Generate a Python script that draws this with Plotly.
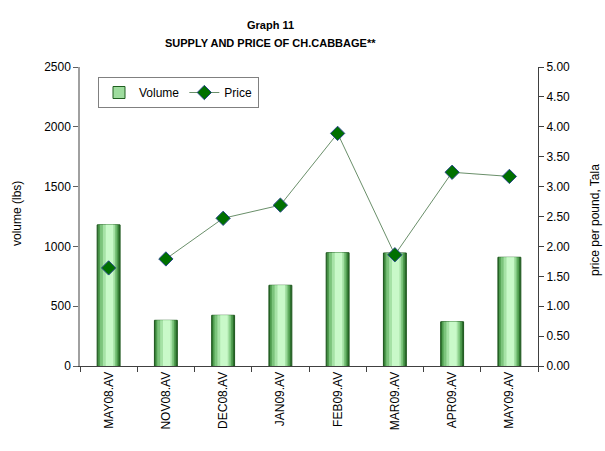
import plotly.graph_objects as go

categories = ["MAY08.AV", "NOV08.AV", "DEC08.AV", "JAN09.AV", "FEB09.AV", "MAR09.AV", "APR09.AV", "MAY09.AV"]
volume = [1180, 382, 424, 675, 947, 945, 370, 909]
price = [1.64, 1.79, 2.47, 2.69, 3.89, 1.86, 3.24, 3.17]

FONT = "Liberation Sans, Arial, sans-serif"
W, H = 605, 451
# plot area in page pixels: x 80..538, y 67..366
PX0, PX1, PY0, PY1 = 80, 538, 67, 366
L, R, T, B = PX0, W - PX1, PY0, H - PY1
PW, PH = PX1 - PX0, PY1 - PY0


def px(x):
    return (x - PX0) / PW


def py(y):
    return (PY1 - y) / PH


fig = go.Figure()

# layered bars to imitate the gradient fill
layers = [
    (-0.20, 0.40, "#2c6e2c", dict(color="#1d561d", width=1)),
    (-0.18, 0.35, "#4f9d4f", dict(width=0)),
    (-0.15, 0.29, "#7cc47c", dict(width=0)),
    (-0.10, 0.21, "#a6e2a6", dict(width=0)),
    (-0.05, 0.13, "#c9f9c9", dict(width=0)),
]
for i, (o, w, c, ln) in enumerate(layers):
    fig.add_trace(go.Bar(
        x=categories, y=volume, width=w, offset=o, marker=dict(color=c, line=ln),
        showlegend=False, hoverinfo="skip" if i else None, yaxis="y",
    ))
# legend entry for Volume
fig.add_trace(go.Bar(
    x=[categories[0]], y=[None], name="Volume",
    marker=dict(color="#9edc9e", line=dict(color="#1f5f1f", width=1)),
    showlegend=True, legendrank=1,
))

diamond = dict(symbol="diamond", size=11, color="#007000", line=dict(color="#2a4a8a", width=1))
fig.add_trace(go.Scatter(
    x=categories[1:], y=price[1:], mode="lines+markers", name="Price",
    line=dict(color="#6a8f6a", width=1), marker=diamond, yaxis="y2", legendrank=2,
))
fig.add_trace(go.Scatter(
    x=categories[:1], y=price[:1], mode="markers", marker=diamond,
    yaxis="y2", showlegend=False,
))

axis_font = dict(family=FONT, size=12, color="black")
fig.update_layout(
    width=W, height=H,
    margin=dict(l=L, r=R, t=T, b=B),
    paper_bgcolor="white", plot_bgcolor="white",
    barmode="overlay",
    font=dict(family=FONT, size=12, color="black"),
    xaxis=dict(
        type="category", tickangle=-90, tickfont=axis_font,
        showline=True, linecolor="#404040", linewidth=1,
        ticks="outside", ticklen=5, tickcolor="#404040", tickson="boundaries",
        showgrid=False, zeroline=False, range=[-0.5, 7.5],
    ),
    yaxis=dict(
        range=[0, 2500], dtick=500, tickfont=axis_font,
        showline=True, linecolor="#a0a0a0", linewidth=1.5,
        ticks="outside", ticklen=5, tickcolor="#606060",
        showgrid=False, zeroline=False,
    ),
    yaxis2=dict(
        range=[0, 5], dtick=0.5, tickformat=".2f", tickfont=axis_font,
        overlaying="y", side="right",
        showline=True, linecolor="#404040", linewidth=1,
        ticks="outside", ticklen=5, tickcolor="#404040",
        showgrid=False, zeroline=False,
    ),
    legend=dict(
        orientation="h", x=px(98), y=py(77),
        xanchor="left", yanchor="top",
        bordercolor="#808080", borderwidth=1, bgcolor="white",
        font=dict(family=FONT, size=12, color="black"),
        itemwidth=30, tracegroupgap=0,
    ),
    showlegend=True,
)

for text, y in [("<b>Graph 11</b>", 25), ("<b>SUPPLY AND PRICE OF CH.CABBAGE**</b>", 43)]:
    fig.add_annotation(text=text, xref="paper", yref="paper",
                       x=px(270), y=py(y),
                       xanchor="center", yanchor="middle", showarrow=False,
                       font=dict(family=FONT, size=11, color="black"))
fig.add_annotation(text="volume (lbs)", xref="paper", yref="paper",
                   x=px(17), y=py(214), textangle=-90,
                   xanchor="center", yanchor="middle", showarrow=False,
                   font=dict(family=FONT, size=12, color="black"))
fig.add_annotation(text="price per pound, Tala", xref="paper", yref="paper",
                   x=px(595), y=py(220), textangle=-90,
                   xanchor="center", yanchor="middle", showarrow=False,
                   font=dict(family=FONT, size=12, color="black"))

fig.write_html("out.html", config={"displayModeBar": False},
               post_script="document.body.style.margin='0px';document.body.style.overflow='hidden';")
